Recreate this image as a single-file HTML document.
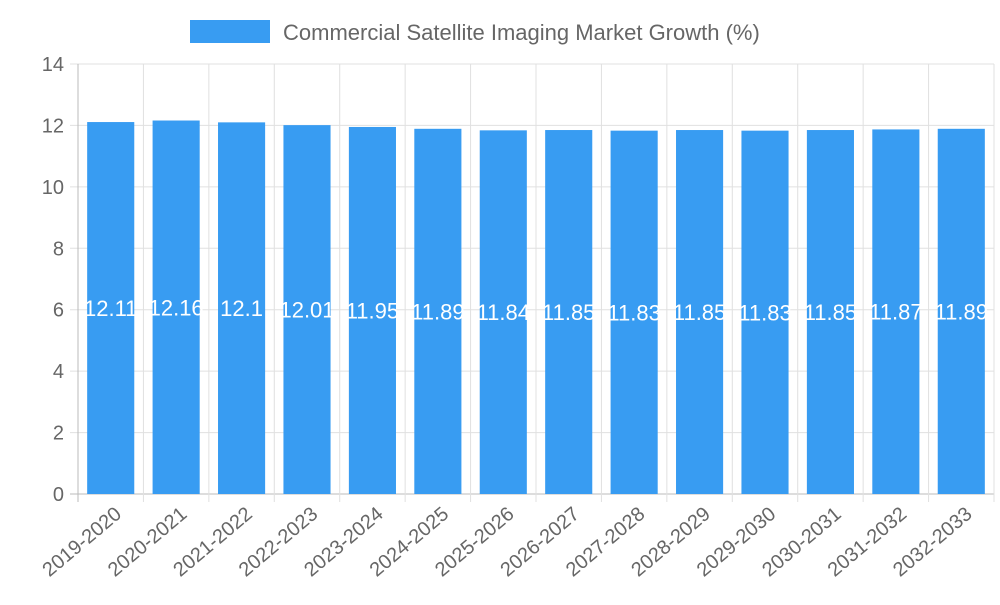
<!DOCTYPE html>
<html><head><meta charset="utf-8"><style>
body{margin:0;background:#fff;font-family:"Liberation Sans",sans-serif}
</style></head><body>
<svg id="chart" width="1000" height="600" xmlns="http://www.w3.org/2000/svg" font-family="Liberation Sans, sans-serif">
<g id="legend">
<rect x="190" y="20" width="80" height="23" fill="#389cf2"/>
<text x="283" y="40" font-size="22" fill="#666">Commercial Satellite Imaging Market Growth (%)</text>
</g>
<g id="grid"></g><g id="bars"></g><g id="axes"></g>
</svg>
<script>
const categories=["2019-2020","2020-2021","2021-2022","2022-2023","2023-2024","2024-2025","2025-2026","2026-2027","2027-2028","2028-2029","2029-2030","2030-2031","2031-2032","2032-2033"];
const values=[12.11,12.16,12.1,12.01,11.95,11.89,11.84,11.85,11.83,11.85,11.83,11.85,11.87,11.89];
const valueLabels=["12.11","12.16","12.1","12.01","11.95","11.89","11.84","11.85","11.83","11.85","11.83","11.85","11.87","11.89"];
const yTicks=[0,2,4,6,8,10,12,14];
const NS="http://www.w3.org/2000/svg";
const L=78,R=994,T=64,B=494,yMax=14;
const step=(R-L)/categories.length;
const y=v=>B-(v/yMax)*(B-T);
const x=i=>L+i*step;
function mk(tag,attrs,parent){const e=document.createElementNS(NS,tag);for(const k in attrs)e.setAttribute(k,attrs[k]);parent.appendChild(e);return e;}
const grid=document.getElementById('grid'),bars=document.getElementById('bars'),axes=document.getElementById('axes');
yTicks.forEach(t=>{
 const g=mk('line',{x1:L-8,x2:R,y1:y(t),y2:y(t),stroke:t===0?'#bbb':'#e0e0e0','stroke-width':1},grid);
 
 
 const tx=mk('text',{x:L-14,y:y(t)+7,'text-anchor':'end','font-size':20,fill:'#666'},axes);
 tx.textContent=t;
 
 
});
for(let i=0;i<=categories.length;i++){
 const g=mk('line',{x1:x(i),x2:x(i),y1:T,y2:B+8,stroke:i===0?'#bbb':'#e0e0e0','stroke-width':1},grid);
 
 
}
const bw=step*0.72;
categories.forEach((c,i)=>{
 const cx=x(i)+step/2;
 const r=mk('rect',{x:cx-bw/2,y:y(values[i]),width:bw,height:B-y(values[i]),fill:'#389cf2'},bars);
 
 
 const vt=mk('text',{x:cx,y:y(values[i]/2)+8,'text-anchor':'middle','font-size':22,fill:'#fff'},bars);
 vt.textContent=valueLabels[i];
 
 
 const lt=mk('text',{x:0,y:0,'text-anchor':'end','font-size':20,fill:'#666',transform:`translate(${cx+12},${B+22}) rotate(-40)`},axes);
 lt.textContent=c;
 
 
});
</script>
</body></html>
